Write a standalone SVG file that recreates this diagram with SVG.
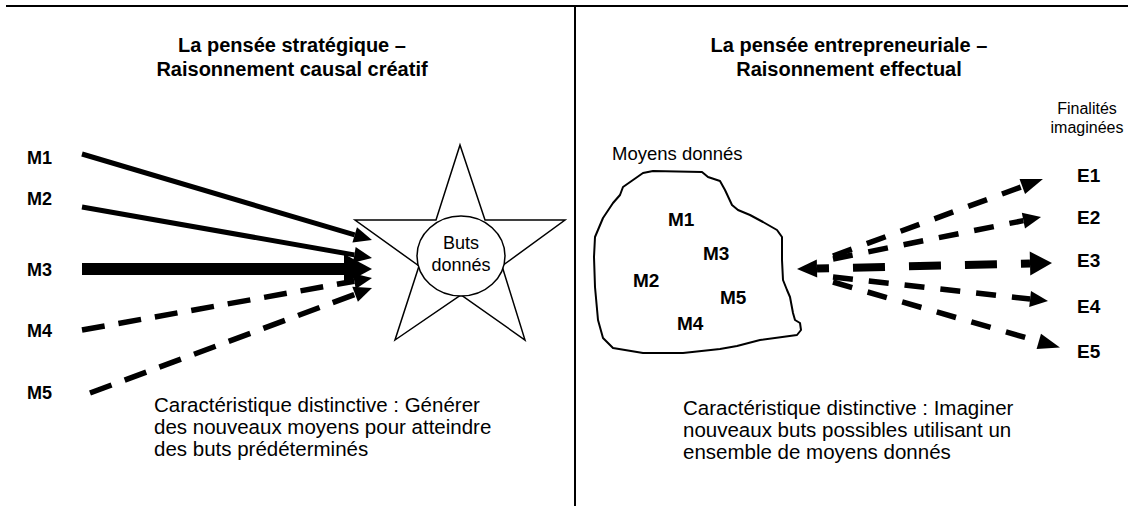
<svg xmlns="http://www.w3.org/2000/svg" width="1128" height="506" viewBox="0 0 1128 506">
<style>
text{font-family:"Liberation Sans",Arial,sans-serif;fill:#000}
.title{font-size:20px;font-weight:bold;text-anchor:middle}
.lab{font-size:18px;font-weight:bold}
.lab19{font-size:19px;font-weight:bold}
.cap{font-size:20.5px}
.small{font-size:16px;text-anchor:middle}
.inner{font-size:18px;text-anchor:middle}
.frame{stroke:#000;stroke-width:2;fill:none}
.solid{stroke:#000;stroke-width:5;fill:none}
.dash{stroke:#000;stroke-width:5.5;fill:none;stroke-dasharray:23 14}
.rdash{stroke:#000;stroke-width:5.5;fill:none;stroke-dasharray:20 16}
.shape{fill:#fff;stroke:#000;stroke-width:1.5}
</style>
<defs>
<marker id="ah" markerUnits="userSpaceOnUse" markerWidth="18" markerHeight="16" refX="0" refY="8" orient="auto" overflow="visible">
<path d="M0,0 L18,8 L0,16 z" fill="#000"/>
</marker>
<marker id="ahBig" markerUnits="userSpaceOnUse" markerWidth="28" markerHeight="30" refX="0" refY="15" orient="auto" overflow="visible">
<path d="M0,0 L28,15 L0,30 z" fill="#000"/>
</marker>
<marker id="ahE1" markerUnits="userSpaceOnUse" markerWidth="22" markerHeight="16" refX="0" refY="8" orient="auto" overflow="visible">
<path d="M0,0 L22,8 L0,16 z" fill="#000"/>
</marker>
<marker id="ahE3" markerUnits="userSpaceOnUse" markerWidth="22" markerHeight="24" refX="0" refY="12" orient="auto" overflow="visible">
<path d="M0,0 L22,12 L0,24 z" fill="#000"/>
</marker>
<marker id="ahE3s" markerUnits="userSpaceOnUse" markerWidth="20" markerHeight="18" refX="0" refY="9" orient="auto-start-reverse" overflow="visible">
<path d="M0,0 L20,9 L0,18 z" fill="#000"/>
</marker>
</defs>

<g id="frame">
<line class="frame" x1="6" y1="6" x2="1128" y2="6"/>
<line class="frame" x1="575" y1="6" x2="575" y2="506"/>
</g>

<g id="title-left">
<text class="title" x="292" y="52">La pensée stratégique –</text>
<text class="title" x="292" y="76">Raisonnement causal créatif</text>
</g>
<g id="title-right">
<text class="title" x="849" y="52">La pensée entrepreneuriale –</text>
<text class="title" x="849" y="76">Raisonnement effectual</text>
</g>

<g id="left-M1"><text class="lab" x="27" y="164">M1</text></g>
<g id="left-M2"><text class="lab" x="27" y="205">M2</text></g>
<g id="left-M3"><text class="lab" x="27" y="276">M3</text></g>
<g id="left-M4"><text class="lab" x="27" y="337">M4</text></g>
<g id="left-M5"><text class="lab" x="27" y="399">M5</text></g>

<g id="buts-donnes">
<polygon class="shape" points="460,145 485,220 565,220 502,266 525,340 461,295 395,340 419,266 355,220 436,220"/>
<ellipse class="shape" cx="461" cy="256" rx="44" ry="40"/>
<text class="inner" x="461" y="249">Buts</text>
<text class="inner" x="461" y="271">donnés</text>
</g>

<g id="moyens-donnes">
<text x="612" y="160" style="font-size:18.5px">Moyens donnés</text>
<path d="M653,171 L702,172 L708,177 L720,181 L725,190 L732,205 L738,210 L750,215 L763,222 L777,230 L782,237 L782,260 L783,280 L787,290 L790,297 L793,313 L795,320 L800,323 L801,330 L797,335 L760,340 L737,346 L720,349 L683,353 L643,353 L613,348 L603,338 L598,320 L595,287 L594,257 L595,237 L603,218 L613,203 L620,195 L623,187 L633,180 L643,173 Z" fill="#fff" stroke="#000" stroke-width="2" stroke-linejoin="round"/>
<text class="lab19" x="668" y="226">M1</text>
<text class="lab19" x="703" y="260">M3</text>
<text class="lab19" x="633" y="287">M2</text>
<text class="lab19" x="720" y="304">M5</text>
<text class="lab19" x="677" y="330">M4</text>
</g>

<g id="finalites">
<text class="small" x="1087" y="114">Finalités</text>
<text class="small" x="1087" y="133">imaginées</text>
</g>

<g id="E1"><text class="lab19" x="1077" y="182">E1</text></g>
<g id="E2"><text class="lab19" x="1077" y="224">E2</text></g>
<g id="E3"><text class="lab19" x="1077" y="267">E3</text></g>
<g id="E4"><text class="lab19" x="1077" y="313">E4</text></g>
<g id="E5"><text class="lab19" x="1077" y="358">E5</text></g>

<g id="connectors">
<line class="solid" x1="82" y1="154" x2="354.7" y2="234.9" marker-end="url(#ah)"/>
<line class="solid" x1="82" y1="207" x2="354.3" y2="254.9" marker-end="url(#ah)"/>
<line x1="82" y1="269" x2="344" y2="269" stroke="#000" stroke-width="12" marker-end="url(#ahBig)"/>
<line class="dash" x1="82" y1="330" x2="354.3" y2="281.2" marker-end="url(#ah)"/>
<line class="dash" x1="90" y1="393" x2="355.1" y2="294.3" marker-end="url(#ah)"/>

<line class="rdash" x1="833" y1="256" x2="1022.3" y2="186.6" marker-end="url(#ahE1)"/>
<line class="rdash" x1="833" y1="259" x2="1023.4" y2="220.6" marker-end="url(#ah)"/>
<line x1="817" y1="268.5" x2="1030" y2="263.5" stroke="#000" stroke-width="8" stroke-dasharray="32 24" stroke-dashoffset="20" marker-start="url(#ahE3s)" marker-end="url(#ahE3)"/>
<line class="rdash" x1="833" y1="277" x2="1030.1" y2="299" marker-end="url(#ah)"/>
<line class="rdash" x1="833" y1="282" x2="1038.8" y2="341.4" marker-end="url(#ahE1)"/>
</g>

<g id="caption-left">
<text class="cap" x="154" y="412">Caractéristique distinctive : Générer</text>
<text class="cap" x="154" y="434">des nouveaux moyens pour atteindre</text>
<text class="cap" x="154" y="456">des buts prédéterminés</text>
</g>
<g id="caption-right">
<text class="cap" x="683" y="415">Caractéristique distinctive : Imaginer</text>
<text class="cap" x="683" y="437">nouveaux buts possibles utilisant un</text>
<text class="cap" x="683" y="459">ensemble de moyens donnés</text>
</g>
</svg>
